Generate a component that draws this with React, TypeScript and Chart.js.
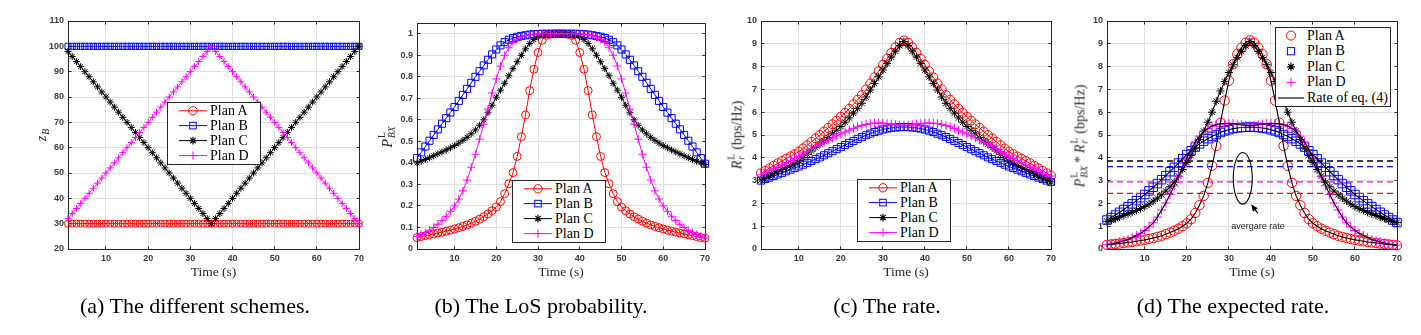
import React, { useEffect, useRef } from "react";
import { Chart, registerables } from "chart.js";
Chart.register(...registerables);

// ---------- data ----------
const TIME = [1,2,3,4,5,6,7,8,9,10,11,12,13,14,15,16,17,18,19,20,21,22,23,24,25,26,27,28,29,30,31,32,33,34,35,
  36,37,38,39,40,41,42,43,44,45,46,47,48,49,50,51,52,53,54,55,56,57,58,59,60,61,62,63,64,65,66,67,68,69,70];
const X_TICKS = [10, 20, 30, 40, 50, 60, 70];

// (a) heights z_B
const Z_A = [30,30,30,30,30,30,30,30,30,30,30,30,30,30,30,30,30,30,30,30,30,30,30,30,30,30,30,30,30,30,30,30,30,30,30,
  30,30,30,30,30,30,30,30,30,30,30,30,30,30,30,30,30,30,30,30,30,30,30,30,30,30,30,30,30,30,30,30,30,30,30];
const Z_B = [100,100,100,100,100,100,100,100,100,100,100,100,100,100,100,100,100,100,100,100,100,100,100,100,100,100,100,100,100,100,100,100,100,100,100,
  100,100,100,100,100,100,100,100,100,100,100,100,100,100,100,100,100,100,100,100,100,100,100,100,100,100,100,100,100,100,100,100,100,100,100];
const Z_C = [98,96,94,92,90,88,86,84,82,80,78,76,74,72,70,68,66,64,62,60,58,56,54,52,50,48,46,44,42,40,38,36,34,32,30,
  32,34,36,38,40,42,44,46,48,50,52,54,56,58,60,62,64,66,68,70,72,74,76,78,80,82,84,86,88,90,92,94,96,98,100];
const Z_D = [32,34,36,38,40,42,44,46,48,50,52,54,56,58,60,62,64,66,68,70,72,74,76,78,80,82,84,86,88,90,92,94,96,98,100,
  98,96,94,92,90,88,86,84,82,80,78,76,74,72,70,68,66,64,62,60,58,56,54,52,50,48,46,44,42,40,38,36,34,32,30];
const Z_TICKS = [20, 30, 40, 50, 60, 70, 80, 90, 100, 110];

// (b) LoS probability
const P_A = [0.053,0.058,0.062,0.066,0.07,0.074,0.078,0.083,0.088,0.093,0.099,0.105,0.112,0.12,0.129,0.139,0.15,0.163,0.178,0.195,0.22,0.257,0.303,0.355,0.43,0.522,0.623,0.736,0.835,0.913,0.97,0.993,0.998,1.0,1.0,
  1.0,0.998,0.993,0.97,0.913,0.835,0.736,0.623,0.522,0.43,0.355,0.303,0.257,0.22,0.195,0.178,0.163,0.15,0.139,0.129,0.12,0.112,0.105,0.099,0.093,0.088,0.083,0.078,0.074,0.07,0.066,0.062,0.058,0.053,0.05];
const P_B = [0.422,0.449,0.476,0.503,0.53,0.556,0.582,0.608,0.634,0.66,0.688,0.716,0.744,0.772,0.8,0.826,0.853,0.879,0.904,0.927,0.946,0.961,0.972,0.98,0.986,0.99,0.993,0.996,0.998,0.999,1.0,1.0,1.0,1.0,1.0,
  1.0,1.0,1.0,1.0,0.999,0.998,0.996,0.993,0.99,0.986,0.98,0.972,0.961,0.946,0.927,0.904,0.879,0.853,0.826,0.8,0.772,0.744,0.716,0.688,0.66,0.634,0.608,0.582,0.556,0.53,0.503,0.476,0.449,0.422,0.396];
const P_C = [0.4,0.408,0.416,0.424,0.433,0.442,0.451,0.46,0.47,0.48,0.492,0.505,0.519,0.535,0.553,0.575,0.6,0.633,0.668,0.705,0.738,0.77,0.805,0.838,0.87,0.9,0.93,0.955,0.973,0.986,0.993,0.997,0.999,1.0,1.0,
  1.0,0.999,0.997,0.993,0.986,0.973,0.955,0.93,0.9,0.87,0.838,0.805,0.77,0.738,0.705,0.668,0.633,0.6,0.575,0.553,0.535,0.519,0.505,0.492,0.48,0.47,0.46,0.451,0.442,0.433,0.424,0.416,0.408,0.4,0.392];
const P_D = [0.059,0.067,0.076,0.087,0.1,0.115,0.132,0.152,0.175,0.2,0.232,0.27,0.32,0.38,0.44,0.51,0.58,0.65,0.725,0.79,0.85,0.9,0.935,0.96,0.975,0.985,0.991,0.995,0.997,0.999,1.0,1.0,1.0,1.0,1.0,
  1.0,1.0,1.0,1.0,0.999,0.997,0.995,0.991,0.985,0.975,0.96,0.935,0.9,0.85,0.79,0.725,0.65,0.58,0.51,0.44,0.38,0.32,0.27,0.232,0.2,0.175,0.152,0.132,0.115,0.1,0.087,0.076,0.067,0.059,0.052];
const P_TICKS = [0, 0.1, 0.2, 0.3, 0.4, 0.5, 0.6, 0.7, 0.8, 0.9, 1];

// (c) rate
const R_A = [3.32,3.43,3.54,3.65,3.76,3.86,3.96,4.06,4.16,4.27,4.41,4.55,4.7,4.85,5.0,5.15,5.31,5.47,5.63,5.8,5.97,6.15,6.35,6.55,6.75,7.0,7.26,7.53,7.8,8.08,8.35,8.6,8.85,9.05,9.15,
  9.05,8.85,8.6,8.35,8.08,7.8,7.53,7.26,7.0,6.75,6.55,6.35,6.15,5.97,5.8,5.63,5.47,5.31,5.15,5.0,4.85,4.7,4.55,4.41,4.27,4.16,4.06,3.96,3.86,3.76,3.65,3.54,3.43,3.32,3.22];
const R_B = [3.0,3.07,3.13,3.2,3.27,3.34,3.41,3.48,3.55,3.62,3.7,3.78,3.86,3.94,4.02,4.11,4.2,4.29,4.38,4.47,4.56,4.65,4.74,4.83,4.91,4.99,5.06,5.13,5.19,5.24,5.28,5.31,5.33,5.345,5.35,
  5.345,5.33,5.31,5.28,5.24,5.19,5.13,5.06,4.99,4.91,4.83,4.74,4.65,4.56,4.47,4.38,4.29,4.2,4.11,4.02,3.94,3.86,3.78,3.7,3.62,3.55,3.48,3.41,3.34,3.27,3.2,3.13,3.07,3.0,2.94];
const R_C = [3.03,3.12,3.22,3.31,3.4,3.49,3.58,3.67,3.77,3.87,4.01,4.16,4.3,4.45,4.6,4.74,4.89,5.05,5.21,5.37,5.56,5.75,5.96,6.17,6.39,6.67,6.97,7.26,7.55,7.85,8.14,8.42,8.68,8.92,9.1,
  8.92,8.68,8.42,8.14,7.85,7.55,7.26,6.97,6.67,6.39,6.17,5.96,5.75,5.56,5.37,5.21,5.05,4.89,4.74,4.6,4.45,4.3,4.16,4.01,3.87,3.77,3.67,3.58,3.49,3.4,3.31,3.22,3.12,3.03,2.95];
const R_D = [3.25,3.34,3.43,3.52,3.6,3.69,3.78,3.87,3.96,4.05,4.16,4.27,4.38,4.49,4.6,4.69,4.78,4.87,4.96,5.05,5.13,5.21,5.29,5.36,5.42,5.47,5.5,5.52,5.52,5.52,5.5,5.48,5.45,5.43,5.42,
  5.43,5.45,5.48,5.5,5.52,5.52,5.52,5.5,5.47,5.42,5.36,5.29,5.21,5.13,5.05,4.96,4.87,4.78,4.69,4.6,4.49,4.38,4.27,4.16,4.05,3.96,3.87,3.78,3.69,3.6,3.52,3.43,3.34,3.25,3.2];
const R_TICKS = [0, 1, 2, 3, 4, 5, 6, 7, 8, 9, 10];

// (d) expected rate
const E_A = [0.18,0.2,0.22,0.24,0.26,0.29,0.31,0.34,0.37,0.4,0.44,0.48,0.53,0.58,0.65,0.72,0.8,0.89,1.0,1.13,1.31,1.58,1.92,2.33,2.9,3.65,4.52,5.54,6.51,7.38,8.1,8.54,8.83,9.05,9.15,
  9.05,8.83,8.54,8.1,7.38,6.51,5.54,4.52,3.65,2.9,2.33,1.92,1.58,1.31,1.13,1.0,0.89,0.8,0.72,0.65,0.58,0.53,0.48,0.44,0.4,0.37,0.34,0.31,0.29,0.26,0.24,0.22,0.2,0.18,0.16];
const E_B = [1.27,1.38,1.49,1.61,1.73,1.86,1.98,2.12,2.25,2.39,2.55,2.71,2.87,3.04,3.22,3.39,3.58,3.77,3.96,4.14,4.31,4.47,4.61,4.73,4.84,4.94,5.02,5.11,5.18,5.23,5.28,5.31,5.33,5.34,5.35,
  5.34,5.33,5.31,5.28,5.23,5.18,5.11,5.02,4.94,4.84,4.73,4.61,4.47,4.31,4.14,3.96,3.77,3.58,3.39,3.22,3.04,2.87,2.71,2.55,2.39,2.25,2.12,1.98,1.86,1.73,1.61,1.49,1.38,1.27,1.16];
const E_C = [1.21,1.27,1.34,1.4,1.47,1.54,1.61,1.69,1.77,1.86,1.97,2.1,2.23,2.38,2.54,2.73,2.93,3.2,3.48,3.79,4.1,4.43,4.8,5.17,5.56,6.0,6.48,6.93,7.35,7.74,8.08,8.39,8.67,8.92,9.1,
  8.92,8.67,8.39,8.08,7.74,7.35,6.93,6.48,6.0,5.56,5.17,4.8,4.43,4.1,3.79,3.48,3.2,2.93,2.73,2.54,2.38,2.23,2.1,1.97,1.86,1.77,1.69,1.61,1.54,1.47,1.4,1.34,1.27,1.21,1.16];
const E_D = [0.19,0.22,0.26,0.31,0.36,0.42,0.5,0.59,0.69,0.81,0.97,1.15,1.4,1.71,2.02,2.39,2.77,3.17,3.6,3.99,4.36,4.69,4.95,5.15,5.28,5.39,5.45,5.49,5.5,5.51,5.5,5.48,5.45,5.43,5.42,
  5.43,5.45,5.48,5.5,5.51,5.5,5.49,5.45,5.39,5.28,5.15,4.95,4.69,4.36,3.99,3.6,3.17,2.77,2.39,2.02,1.71,1.4,1.15,0.97,0.81,0.69,0.59,0.5,0.42,0.36,0.31,0.26,0.22,0.19,0.17];
const AVG_A = 2.44;
const AVG_B = 3.61;
const AVG_C = 3.86;
const AVG_D = 2.94;

// annotation (ellipse around the average lines, in data units)
const ELLIPSE = { t: 33.3, y: 3.1, dt: 2.26, dy: 1.13 };
const ARROW = { fromT: 36.9, fromY: 1.56, toT: 35.3, toY: 1.96 };

// ---------- styles ----------
const SERIF = '"Liberation Serif", "Times New Roman", Times, serif';
const SANS = '"Liberation Sans", Arial, Helvetica, sans-serif';
const AXIS = "#262626";
const TICKC = "#3a3a3a";
const GRID = "#e0e0e0";
const RED = "#ff0000";
const BLUE = "#0000ff";
const BLACK = "#000000";
const MAGENTA = "#ff00ff";
const NONE = "rgba(0,0,0,0)";

const pts = (ys: number[]) => TIME.map((t, i) => ({ x: t, y: ys[i] }));

function series(label: string, ys: number[], color: string, style: string, radius: number, showLine: boolean, order: number) {
  return {
    label,
    data: pts(ys),
    borderColor: color,
    backgroundColor: NONE,
    pointBorderColor: color,
    pointBackgroundColor: NONE,
    pointStyle: style,
    pointRadius: radius,
    pointHoverRadius: radius,
    pointBorderWidth: 1,
    borderWidth: 1,
    showLine,
    tension: 0,
    clip: false,
    order,
  };
}

function plainLine(label: string, ys: number[], order: number) {
  return {
    label,
    data: pts(ys),
    borderColor: BLACK,
    backgroundColor: NONE,
    pointRadius: 0,
    borderWidth: 1.1,
    showLine: true,
    tension: 0,
    order,
  };
}

function avgLine(label: string, value: number, color: string) {
  return {
    label,
    data: [{ x: TIME[0], y: value }, { x: TIME[TIME.length - 1], y: value }],
    borderColor: color,
    backgroundColor: NONE,
    pointRadius: 0,
    borderWidth: 1.3,
    borderDash: [6, 4],
    showLine: true,
    order: 0,
  };
}

const al = (p: number) => Math.round(p - 0.5) + 0.5;

const framePlugin = {
  id: "frame",
  beforeDatasetsDraw(chart: any) {
    const { ctx, chartArea: a, scales } = chart;
    const L = al(a.left), R = al(a.right), T = al(a.top), B = al(a.bottom);
    ctx.save();
    ctx.strokeStyle = AXIS;
    ctx.lineWidth = 1;
    ctx.beginPath();
    ctx.moveTo(L, T); ctx.lineTo(R, T); ctx.lineTo(R, B);
    for (const t of scales.x.ticks) {
      const px = al(scales.x.getPixelForValue(t.value));
      ctx.moveTo(px, B); ctx.lineTo(px, B - 3);
      ctx.moveTo(px, T); ctx.lineTo(px, T + 3);
    }
    for (const t of scales.y.ticks) {
      const py = al(scales.y.getPixelForValue(t.value));
      ctx.moveTo(L, py); ctx.lineTo(L + 3, py);
      ctx.moveTo(R, py); ctx.lineTo(R - 3, py);
    }
    ctx.stroke();
    ctx.restore();
  },
};

const annotPlugin = {
  id: "annot",
  afterDatasetsDraw(chart: any) {
    const { ctx, scales } = chart;
    const x = scales.x, y = scales.y;
    const cx = x.getPixelForValue(ELLIPSE.t);
    const cy = y.getPixelForValue(ELLIPSE.y);
    const rx = Math.abs(x.getPixelForValue(ELLIPSE.t + ELLIPSE.dt) - cx);
    const ry = Math.abs(y.getPixelForValue(ELLIPSE.y + ELLIPSE.dy) - cy);
    ctx.save();
    ctx.strokeStyle = BLACK;
    ctx.lineWidth = 1.1;
    ctx.beginPath();
    ctx.ellipse(cx, cy, rx, ry, 0, 0, Math.PI * 2);
    ctx.stroke();
    const x1 = x.getPixelForValue(ARROW.fromT), y1 = y.getPixelForValue(ARROW.fromY);
    const x2 = x.getPixelForValue(ARROW.toT), y2 = y.getPixelForValue(ARROW.toY);
    const ang = Math.atan2(y2 - y1, x2 - x1);
    const hl = 7, hw = 3;
    const bx = x2 - hl * Math.cos(ang), by = y2 - hl * Math.sin(ang);
    ctx.beginPath();
    ctx.moveTo(x1, y1); ctx.lineTo(bx, by);
    ctx.stroke();
    ctx.fillStyle = BLACK;
    ctx.beginPath();
    ctx.moveTo(x2, y2);
    ctx.lineTo(bx + hw * Math.sin(ang), by - hw * Math.cos(ang));
    ctx.lineTo(bx - hw * Math.sin(ang), by + hw * Math.cos(ang));
    ctx.closePath();
    ctx.fill();
    ctx.restore();
  },
};

type PanelSpec = {
  left: number; width: number; padTop: number; padRight: number; yAxisWidth: number;
  yMin: number; yMax: number; yTicks: number[]; yFmt: (v: number) => string;
  datasets: any[]; extra?: any[];
};

const TICK_FONT = { family: SANS, size: 9, weight: "bold" as any };

function ChartPanel({ spec }: { spec: PanelSpec }) {
  const ref = useRef<HTMLCanvasElement>(null);
  useEffect(() => {
    const chart = new Chart(ref.current as HTMLCanvasElement, {
      type: "line",
      data: { datasets: spec.datasets },
      options: {
        animation: false,
        responsive: false,
        maintainAspectRatio: false,
        events: [],
        layout: { padding: { left: 0, right: spec.padRight, top: spec.padTop, bottom: 54 } },
        plugins: { legend: { display: false }, tooltip: { enabled: false }, title: { display: false } },
        scales: {
          x: {
            type: "linear",
            min: 1,
            max: 70,
            afterBuildTicks: (s: any) => { s.ticks = X_TICKS.map((v) => ({ value: v })); },
            afterFit: (s: any) => { s.height = 32; },
            grid: { color: GRID, lineWidth: 1, drawTicks: false },
            border: { color: AXIS, width: 1 },
            ticks: { padding: 4, autoSkip: false, maxRotation: 0, color: TICKC, font: TICK_FONT, callback: (v: any) => String(v) },
            title: { display: true, text: "Time (s)", color: AXIS, padding: 0, font: { family: SERIF, size: 13.5 } },
          },
          y: {
            type: "linear",
            min: spec.yMin,
            max: spec.yMax,
            afterBuildTicks: (s: any) => { s.ticks = spec.yTicks.map((v) => ({ value: v })); },
            afterFit: (s: any) => { s.width = spec.yAxisWidth; },
            grid: { color: GRID, lineWidth: 1, drawTicks: false },
            border: { color: AXIS, width: 1 },
            ticks: { padding: 4, autoSkip: false, color: TICKC, font: TICK_FONT, callback: (v: any) => spec.yFmt(Number(v)) },
          },
        },
      } as any,
      plugins: [framePlugin, ...(spec.extra || [])],
    });
    return () => chart.destroy();
  }, []);
  return (
    <canvas ref={ref} width={spec.width} height={335}
      style={{ position: "absolute", left: spec.left, top: 0, width: spec.width, height: 335 }} />
  );
}

const intFmt = (v: number) => String(Math.round(v));
const decFmt = (v: number) => String(Math.round(v * 10) / 10);

const PANELS: PanelSpec[] = [
  {
    left: 0, width: 372, padTop: 21, padRight: 13, yAxisWidth: 68,
    yMin: 20, yMax: 110, yTicks: Z_TICKS, yFmt: intFmt,
    datasets: [
      series("Plan A", Z_A, RED, "circle", 3.5, true, 4),
      series("Plan B", Z_B, BLUE, "rect", 4.3, true, 3),
      series("Plan C", Z_C, BLACK, "star", 3.5, true, 2),
      series("Plan D", Z_D, MAGENTA, "cross", 3.5, true, 1),
    ],
  },
  {
    left: 372, width: 346, padTop: 23, padRight: 13, yAxisWidth: 45,
    yMin: 0, yMax: 1.05, yTicks: P_TICKS, yFmt: decFmt,
    datasets: [
      series("Plan A", P_A, RED, "circle", 4, true, 4),
      series("Plan B", P_B, BLUE, "rect", 5, true, 3),
      series("Plan C", P_C, BLACK, "star", 3.5, true, 2),
      series("Plan D", P_D, MAGENTA, "cross", 4, true, 1),
    ],
  },
  {
    left: 718, width: 345, padTop: 21, padRight: 12, yAxisWidth: 43,
    yMin: 0, yMax: 10, yTicks: R_TICKS, yFmt: intFmt,
    datasets: [
      series("Plan A", R_A, RED, "circle", 4.5, true, 4),
      series("Plan B", R_B, BLUE, "rect", 5, true, 3),
      series("Plan C", R_C, BLACK, "star", 4, true, 2),
      series("Plan D", R_D, MAGENTA, "cross", 4.5, true, 1),
    ],
  },
  {
    left: 1063, width: 358, padTop: 21, padRight: 24, yAxisWidth: 44,
    yMin: 0, yMax: 10, yTicks: R_TICKS, yFmt: intFmt,
    datasets: [
      series("Plan A", E_A, RED, "circle", 4.7, false, 5),
      series("Plan B", E_B, BLUE, "rect", 6, false, 4),
      series("Plan C", E_C, BLACK, "star", 4, false, 3),
      series("Plan D", E_D, MAGENTA, "cross", 4.5, false, 2),
      plainLine("Rate of eq. (4) A", E_A, 1),
      plainLine("Rate of eq. (4) B", E_B, 1),
      plainLine("Rate of eq. (4) C", E_C, 1),
      plainLine("Rate of eq. (4) D", E_D, 1),
      avgLine("avg C", AVG_C, BLACK),
      avgLine("avg B", AVG_B, BLUE),
      avgLine("avg D", AVG_D, MAGENTA),
      avgLine("avg A", AVG_A, RED),
    ],
    extra: [annotPlugin],
  },
];

// ---------- HTML overlays ----------
function MarkerSvg({ kind, color, cx, cy, size }: any) {
  if (kind === "circle") return <circle cx={cx} cy={cy} r={size} fill="none" stroke={color} strokeWidth={1} />;
  if (kind === "square") return <rect x={cx - size} y={cy - size} width={2 * size} height={2 * size} fill="none" stroke={color} strokeWidth={1} />;
  if (kind === "plus") return <path d={`M${cx - size},${cy}H${cx + size}M${cx},${cy - size}V${cy + size}`} stroke={color} strokeWidth={1} fill="none" />;
  if (kind === "star") {
    const d = size * 0.707;
    return <path d={`M${cx - size},${cy}H${cx + size}M${cx},${cy - size}V${cy + size}M${cx - d},${cy - d}L${cx + d},${cy + d}M${cx - d},${cy + d}L${cx + d},${cy - d}`} stroke={color} strokeWidth={1.2} fill="none" />;
  }
  return null;
}

const PLAN_ITEMS = [
  { label: "Plan A", color: RED, kind: "circle", size: 4.2 },
  { label: "Plan B", color: BLUE, kind: "square", size: 3.3 },
  { label: "Plan C", color: BLACK, kind: "star", size: 3.8 },
  { label: "Plan D", color: MAGENTA, kind: "plus", size: 4.2 },
];

function PlanLegend({ left, top }: { left: number; top: number }) {
  const w = 94, h = 63;
  const rows = [8.8, 23.6, 38.6, 53.6];
  return (
    <div style={{ position: "absolute", left, top, width: w, height: h, boxSizing: "border-box", border: `1px solid ${AXIS}`, background: "#fff" }}>
      <svg width={w} height={h} style={{ position: "absolute", left: -1, top: -1 }}>
        {PLAN_ITEMS.map((it, i) => (
          <g key={i}>
            <line x1={12} x2={40} y1={rows[i]} y2={rows[i]} stroke={it.color} strokeWidth={1} />
            <MarkerSvg kind={it.kind} color={it.color} cx={26} cy={rows[i]} size={it.size} />
          </g>
        ))}
      </svg>
      {PLAN_ITEMS.map((it, i) => (
        <div key={i} style={{ position: "absolute", left: 42, top: rows[i] - 10, height: 18, lineHeight: "18px", fontFamily: SERIF, fontSize: 14, color: "#000", whiteSpace: "nowrap" }}>{it.label}</div>
      ))}
    </div>
  );
}

function RateLegend({ left, top }: { left: number; top: number }) {
  const w = 116, h = 80;
  const rows = [8.6, 24.2, 39.8, 55.4, 71];
  const items = [
    { label: "Plan A", color: RED, kind: "circle", size: 4.5 },
    { label: "Plan B", color: BLUE, kind: "square", size: 3.6 },
    { label: "Plan C", color: BLACK, kind: "star", size: 4 },
    { label: "Plan D", color: MAGENTA, kind: "plus", size: 4.5 },
  ];
  return (
    <div style={{ position: "absolute", left, top, width: w, height: h, boxSizing: "border-box", border: `1px solid ${AXIS}`, background: "#fff" }}>
      <svg width={w} height={h} style={{ position: "absolute", left: -1, top: -1 }}>
        {items.map((it, i) => (
          <MarkerSvg key={i} kind={it.kind} color={it.color} cx={16} cy={rows[i]} size={it.size} />
        ))}
        <line x1={3} x2={29} y1={rows[4]} y2={rows[4]} stroke="#3a3a3a" strokeWidth={1.5} />
      </svg>
      {[...items.map((it) => it.label), "Rate of eq. (4)"].map((lab, i) => (
        <div key={i} style={{ position: "absolute", left: 31, top: rows[i] - 10, height: 18, lineHeight: "18px", fontFamily: SERIF, fontSize: 14, color: "#000", whiteSpace: "nowrap" }}>{lab}</div>
      ))}
    </div>
  );
}

function SupSub({ base, sup, sub }: { base: string; sup?: string; sub: string }) {
  return (
    <span style={{ display: "inline-flex", alignItems: "center" }}>
      <i>{base}</i>
      {sup ? (
        <span style={{ display: "inline-flex", flexDirection: "column", fontSize: "0.68em", lineHeight: 1, marginLeft: 1 }}>
          <span style={{ fontStyle: "normal" }}>{sup}</span>
          <i>{sub}</i>
        </span>
      ) : (
        <i style={{ fontSize: "0.7em", position: "relative", top: "0.35em", marginLeft: 1 }}>{sub}</i>
      )}
    </span>
  );
}

function RotLabel({ cx, cy, children }: any) {
  return (
    <div style={{ position: "absolute", left: cx, top: cy, transform: "translate(-50%, -50%) rotate(-90deg)", whiteSpace: "nowrap", fontFamily: SERIF, fontSize: 14, color: AXIS, lineHeight: 1, display: "flex", alignItems: "center" }}>
      {children}
    </div>
  );
}

function Caption({ cx, text }: { cx: number; text: string }) {
  return (
    <div style={{ position: "absolute", left: cx - 200, top: 294, width: 400, textAlign: "center", fontFamily: SERIF, fontSize: 22, lineHeight: "24px", color: "#000", whiteSpace: "nowrap" }}>{text}</div>
  );
}

export default function App() {
  return (
    <div style={{ position: "absolute", left: 0, top: 0, width: 1421, height: 335, background: "#fff", overflow: "hidden" }}>
      {PANELS.map((p, i) => <ChartPanel key={i} spec={p} />)}

      <RotLabel cx={42} cy={135}><SupSub base="z" sub="B" /></RotLabel>
      <RotLabel cx={388} cy={137}><SupSub base="P" sup="L" sub="BX" /></RotLabel>
      <RotLabel cx={737} cy={135}><SupSub base="R" sup="L" sub="r" /><span style={{ marginLeft: 4 }}>(bps/Hz)</span></RotLabel>
      <RotLabel cx={1080} cy={136}>
        <SupSub base="P" sup="L" sub="BX" /><span style={{ margin: "0 3px" }}>*</span><SupSub base="R" sup="L" sub="r" /><span style={{ marginLeft: 4 }}>(bps/Hz)</span>
      </RotLabel>

      <PlanLegend left={167} top={102} />
      <PlanLegend left={512} top={180} />
      <PlanLegend left={857} top={179} />
      <RateLegend left={1275} top={27} />

      <div style={{ position: "absolute", left: 1208, top: 219, width: 100, textAlign: "center", fontFamily: SANS, fontSize: 9, lineHeight: "14px", color: AXIS }}>avergare rate</div>

      <Caption cx={195} text="(a) The different schemes." />
      <Caption cx={541} text="(b) The LoS probability." />
      <Caption cx={887} text="(c) The rate." />
      <Caption cx={1233} text="(d) The expected rate." />
    </div>
  );
}
